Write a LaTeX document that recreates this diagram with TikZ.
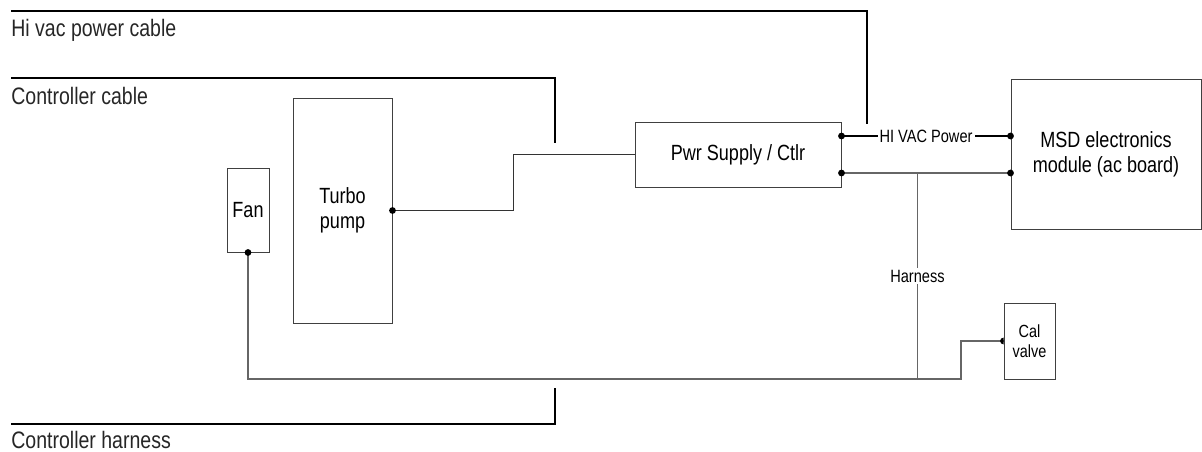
\documentclass[tikz,border=0pt]{standalone}
\usepackage{fontspec}
\setmainfont{Liberation Sans}
\newfontfamily\narrowfont[FakeStretch=0.82]{Liberation Sans}
\usetikzlibrary{calc}

\tikzset{
	box/.style={draw=black!75, line width=0.5pt, fill=white, inner sep=0pt, align=center, font=\narrowfont\fontsize{11}{12.5}\selectfont},
	wire/.style={draw=black!60, line width=0.6pt},
	cable/.style={draw=black, line width=1pt},
	cablelabel/.style={anchor=base west, inner sep=0pt, text=black!85, font=\narrowfont\fontsize{11.9}{12}\selectfont},
	tag/.style={fill=white, inner sep=1pt, font=\narrowfont\fontsize{8.9}{9}\selectfont}
}

\begin{document}
\begin{tikzpicture}[x=0.5pt, y=-0.5pt]
		\useasboundingbox (0,0) rectangle (1202,451);
		
		% Cable labels
		\node[cablelabel] (hivac) at (11,36) {Hi vac power cable};
		\node[cablelabel] (ctlcable) at (11,104) {Controller cable};
		\node[cablelabel] (ctlharness) at (11,448) {Controller harness};
		
		\coordinate (hivacstart) at (11,11);
		\coordinate (hivacend) at (867,124);
		\coordinate (ctlcablestart) at (11,78);
		\coordinate (ctlcableend) at (555,143);
		\coordinate (ctlharnessstart) at (11,424);
		\coordinate (ctlharnessend) at (555,388);
		
		\draw[cable] (hivacstart) -| (hivacend);
		\draw[cable] (ctlcablestart) -| (ctlcableend);
		\draw[cable] (ctlharnessstart) -| (ctlharnessend);
		
		% Fan
		\node[box, minimum width=21pt, minimum height=42pt] (fan) at (248,210) {Fan};
		
		% Turbo pump
		\node[box, minimum width=49.5pt, minimum height=112.5pt] (turbo) at (342.5,210.5) {Turbo\\pump};
		
		% Power supply
		\node[box, minimum width=103pt, minimum height=32.5pt] (pwr) at (738,154.5) {Pwr Supply / Ctlr};
		
		% MSD electronics
		\node[box, minimum width=95pt, minimum height=75pt] (msd) at (1106,154) {MSD electronics\\module (ac board)};
		
		% Cal valve
		\node[box, minimum width=25.5pt, minimum height=38pt, font=\narrowfont\fontsize{8.8}{10}\selectfont] (cal) at (1029.5,341) {Cal\\valve};
		
		% Turbo pump to power supply
		\draw[wire, draw=black!80] (turbo.east) -- ++(121,0) |- (pwr.west);
		
		% Power supply to MSD
		\coordinate (p1) at ($(pwr.east)+(0,-18.5)$);
		\coordinate (p2) at ($(pwr.east)+(0,18.5)$);
		\coordinate (m1) at ($(msd.west)+(0,-18)$);
		\coordinate (m2) at ($(msd.west)+(0,19)$);
		\draw[wire, draw=black] (p1) -- (m1) node[midway, tag] {HI VAC Power};
		\draw[wire] (p2) -- (m2);
		
		% Harness
		\path (p2) ++(76,0) coordinate (hj);
		\coordinate (bend) at (961,379);
		\draw[wire] (fan.south) |- (bend) |- (cal.west);
		\draw[wire] (hj) -- (hj |- bend) node[midway, tag] {Harness};
		
		\foreach \p in {turbo.east, fan.south, p1, p2, m1, m2}
			\fill (\p) circle (1.7pt);
		\fill (cal.west) ++(0,1.7pt) arc[start angle=90, end angle=270, radius=1.7pt] -- cycle;
		
	\end{tikzpicture}
\end{document}
